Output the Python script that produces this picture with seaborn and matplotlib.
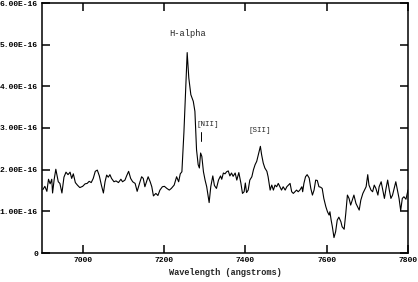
import numpy as np
import pandas as pd
import seaborn as sns
import matplotlib
matplotlib.use("Agg")
import matplotlib.pyplot as plt
from matplotlib.ticker import FuncFormatter

# spectrum (flux in units of 1e-16)
wavelength = [
    6902, 6907, 6912, 6916, 6920, 6924, 6926, 6930, 6934, 6940, 6944, 6949,
    6954, 6959, 6964, 6969, 6973, 6977, 6982, 6987, 6993, 7000, 7006, 7011,
    7016, 7021, 7026, 7031, 7036, 7041, 7046, 7051, 7055, 7059, 7063, 7067,
    7071, 7077, 7082, 7088, 7094, 7098, 7104, 7108, 7113, 7118, 7123, 7129,
    7134, 7141, 7145, 7149, 7153, 7157, 7161, 7166, 7170, 7174, 7180, 7185,
    7190, 7196, 7201, 7207, 7213, 7218, 7225, 7231, 7236, 7240, 7244, 7249,
    7254, 7257, 7261, 7266, 7269, 7272, 7276, 7280, 7284, 7287, 7290, 7293,
    7297, 7301, 7305, 7311, 7315, 7320, 7324, 7329, 7334, 7339, 7342, 7346,
    7350, 7354, 7358, 7362, 7366, 7370, 7375, 7379, 7384, 7389, 7393, 7397,
    7400, 7403, 7407, 7411, 7416, 7420, 7424, 7428, 7433, 7437, 7440, 7444,
    7448, 7453, 7456, 7461, 7465, 7469, 7473, 7477, 7481, 7485, 7489, 7493,
    7498, 7502, 7506, 7510, 7514, 7518, 7522, 7526, 7530, 7534, 7539, 7541,
    7544, 7548, 7552, 7557, 7561, 7565, 7569, 7573, 7577, 7581, 7585, 7589,
    7593, 7598, 7602, 7606, 7608, 7611, 7614, 7618, 7622, 7626, 7630, 7635,
    7638, 7643, 7647, 7651, 7655, 7659, 7663, 7667, 7672, 7676, 7680, 7684,
    7689, 7693, 7697, 7701, 7704, 7709, 7713, 7717, 7721, 7726, 7729, 7734,
    7738, 7742, 7746, 7750, 7754, 7758, 7762, 7766, 7770, 7774, 7778, 7782,
    7786, 7790, 7795, 7800,
]
flux = [
    1.52, 1.60, 1.48, 1.77, 1.66, 1.77, 1.44, 1.77, 2.01, 1.71, 1.67, 1.44,
    1.82, 1.94, 1.88, 1.94, 1.79, 1.90, 1.69, 1.63, 1.57, 1.60, 1.66, 1.67,
    1.72, 1.69, 1.79, 1.96, 1.99, 1.85, 1.63, 1.44, 1.71, 1.87, 1.82, 1.88,
    1.79, 1.71, 1.73, 1.69, 1.77, 1.71, 1.75, 1.85, 1.96, 1.79, 1.71, 1.67,
    1.48, 1.71, 1.83, 1.79, 1.59, 1.71, 1.83, 1.71, 1.59, 1.37, 1.43, 1.38,
    1.51, 1.59, 1.60, 1.55, 1.51, 1.55, 1.63, 1.83, 1.71, 1.90, 1.95, 2.90,
    4.10, 4.81, 4.20, 3.80, 3.72, 3.64, 3.40, 2.48, 2.12, 2.04, 2.40, 2.32,
    1.95, 1.75, 1.59, 1.21, 1.59, 1.85, 1.62, 1.55, 1.75, 1.85, 1.77, 1.92,
    1.90, 1.95, 1.97, 1.85, 1.92, 1.84, 1.92, 1.75, 1.93, 1.68, 1.43, 1.47,
    1.68, 1.45, 1.51, 1.75, 1.83, 2.00, 2.12, 2.20, 2.40, 2.56, 2.36, 2.16,
    2.04, 1.96, 1.83, 1.51, 1.63, 1.51, 1.63, 1.59, 1.67, 1.59, 1.51, 1.59,
    1.51, 1.59, 1.63, 1.67, 1.47, 1.43, 1.47, 1.51, 1.47, 1.51, 1.59, 1.47,
    1.67, 1.83, 1.88, 1.80, 1.55, 1.39, 1.51, 1.75, 1.74, 1.59, 1.58, 1.55,
    1.31, 1.11, 0.99, 0.91, 0.99, 0.79, 0.63, 0.37, 0.51, 0.79, 0.86, 0.75,
    0.63, 0.57, 0.95, 1.39, 1.31, 1.15, 1.27, 1.39, 1.19, 1.11, 1.03, 1.27,
    1.43, 1.51, 1.59, 1.88, 1.63, 1.51, 1.47, 1.63, 1.55, 1.39, 1.59, 1.71,
    1.51, 1.31, 1.55, 1.75, 1.51, 1.31, 1.39, 1.55, 1.71, 1.51, 1.31, 1.02,
    1.31, 1.35, 1.29, 1.51,
]

x_ticks = [7000, 7200, 7400, 7600, 7800]
y_ticks = [0, 1, 2, 3, 4, 5, 6]  # x 1e-16

# line labels: (text, wavelength, flux in 1e-16)
line_labels = [("H-alpha", 7259, 5.26), ("[NII]", 7308, 3.08), ("[SII]", 7436, 2.93)]
nii_mark_wave = 7292
nii_mark_flux = (2.69, 2.91)

sns.set_style("ticks")
plt.rcParams["font.family"] = ["Liberation Mono", "DejaVu Sans Mono"]

df = pd.DataFrame({"wavelength": wavelength, "flux": np.array(flux) * 1e-16})

fig = plt.figure(figsize=(4.18, 2.82), dpi=100)
ax = fig.add_axes([42 / 418, 29 / 282, 366 / 418, 250 / 282])
sns.lineplot(data=df, x="wavelength", y="flux", ax=ax, color="black",
             linewidth=0.8, sort=False)

ax.set_xlim(6900, 7800)
ax.set_ylim(0, 6e-16)
ax.set_xticks(x_ticks)
ax.set_yticks([v * 1e-16 for v in y_ticks])
ax.yaxis.set_major_formatter(FuncFormatter(lambda v, p: "0" if abs(v) < 1e-20 else f"{v:.2E}"))

for s in ax.spines.values():
    s.set_linewidth(1.1)
    s.set_color("black")
ax.tick_params(direction="in", length=5.5, width=1.1, top=True, right=True,
               labelsize=5.8, pad=3, colors="black")
for lab in ax.get_xticklabels() + ax.get_yticklabels():
    lab.set_fontweight("bold")

ax.set_xlabel("Wavelength (angstroms)", fontsize=6.2, fontweight="bold", labelpad=3)
ax.set_ylabel("")

sizes = {"H-alpha": 6.3, "[NII]": 5.4, "[SII]": 5.4}
for text, wl, fl in line_labels:
    ax.text(wl, fl * 1e-16, text, ha="center", va="center", fontsize=sizes[text])
ax.plot([nii_mark_wave, nii_mark_wave], [nii_mark_flux[0] * 1e-16, nii_mark_flux[1] * 1e-16],
        color="black", linewidth=0.7)

fig.savefig("out.png", dpi=100)
